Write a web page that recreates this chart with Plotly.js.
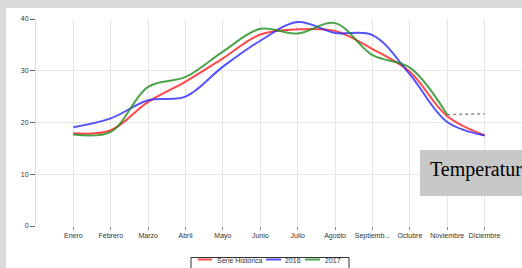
<!DOCTYPE html>
<html>
<head>
<meta charset="utf-8">
<script src="https://cdn.plot.ly/plotly-3.0.1.min.js"></script>
<style>
  html, body { margin: 0; padding: 0; background: #d9d9d9; width: 522px; height: 268px; overflow: hidden; }
  #chart { position: absolute; left: 6px; top: 8px; width: 516px; height: 260px; background: #fff; }
</style>
</head>
<body>
<div id="chart"></div>
<script>
// ---- data ----
var months = ["Enero", "Febrero", "Marzo", "Abril", "Mayo", "Junio", "Julio", "Agosto", "Septiembre", "Octubre", "Noviembre", "Diciembre"];
var monthLabels = ["Enero", "Febrero", "Marzo", "Abril", "Mayo", "Junio", "Julio", "Agosto", "Septiemb...", "Octubre", "Noviembre", "Diciembre"];
var serieHistorica = [17.9, 18.5, 24.0, 27.9, 32.4, 37.0, 38.0, 37.7, 34.2, 29.8, 21.2, 17.5];
var y2016 = [19.1, 20.8, 24.3, 25.0, 30.8, 35.8, 39.4, 37.3, 36.9, 29.3, 20.1, 17.5];
var y2017 = [17.7, 18.2, 26.9, 28.8, 33.7, 38.1, 37.2, 39.2, 33.0, 30.6, 21.5, null];
var prevision = [null, null, null, null, null, null, null, null, null, null, 21.5, 21.7];
var seriesNames = ["Serie Histórica", "2016", "2017"];
var seriesColors = ["rgba(255,40,40,0.85)", "rgba(40,40,255,0.8)", "rgba(30,140,30,0.8)"];
var yTicks = [0, 10, 20, 30, 40];
var boxText = "Temperatur";

// ---- pixel helpers (page px -> paper coords) ----
var PL = 36, PW = 486, PB = 226, PH = 207;
function px(x) { return (x - PL) / PW; }
function py(y) { return (PB - y) / PH; }

var seriesData = [serieHistorica, y2016, y2017];
var traces = seriesData.map(function (vals, i) {
  return {
    x: months, y: vals, type: "scatter", mode: "lines", name: seriesNames[i],
    line: { color: seriesColors[i], width: 2, shape: "spline", smoothing: 1 },
    hoverinfo: "skip"
  };
});
traces.push({
  x: months, y: prevision, type: "scatter", mode: "lines", name: "previsión",
  line: { color: "rgba(110,110,110,0.8)", width: 1.5, dash: "dot" }, hoverinfo: "skip"
});

var shapes = [
  { type: "rect", xref: "paper", yref: "paper", x0: px(420), x1: px(600), y0: py(196), y1: py(150),
    fillcolor: "#c8c8c8", line: { width: 0 }, layer: "above" },
  { type: "rect", xref: "paper", yref: "paper", x0: px(191), x1: px(349), y0: py(285), y1: py(257.5),
    fillcolor: "#ffffff", line: { color: "#333", width: 1 }, layer: "above" }
];
var annotations = [
  { xref: "paper", yref: "paper", x: px(428), y: py(169), xanchor: "left", yanchor: "middle",
    text: boxText, showarrow: false, font: { family: "Liberation Serif, Times New Roman, serif", size: 20, color: "#000" } }
];
var legendLineX = [[198, 212], [266, 281], [305, 320]];
var legendTextX = [215, 283, 323];
for (var i = 0; i < seriesNames.length; i++) {
  shapes.push({ type: "line", xref: "paper", yref: "paper", x0: px(legendLineX[i][0]), x1: px(legendLineX[i][1]),
    y0: py(259.5), y1: py(259.5), line: { color: seriesColors[i], width: 2 }, layer: "above" });
  annotations.push({ xref: "paper", yref: "paper", x: px(legendTextX[i]), y: py(260), xanchor: "left", yanchor: "middle",
    text: seriesNames[i], showarrow: false, font: { family: "Liberation Sans, Arial, sans-serif", size: 7, color: "#333" } });
}

var layout = {
  width: 516, height: 260,
  margin: { l: 30, r: 0, t: 11, b: 42, pad: 0 },
  paper_bgcolor: "#ffffff", plot_bgcolor: "#ffffff",
  showlegend: false,
  xaxis: {
    type: "category", range: [-1, 12], tickmode: "array", tickvals: months, ticktext: monthLabels,
    showgrid: true, gridcolor: "#e6e6e6", gridwidth: 1, zeroline: false, showline: false,
    ticks: "outside", ticklen: 3, tickcolor: "#888", tickwidth: 1,
    tickfont: { family: "Liberation Sans, Arial, sans-serif", size: 7, color: "#333" }, fixedrange: true
  },
  yaxis: {
    range: [0, 40], tickvals: yTicks, showgrid: true, gridcolor: "#e6e6e6", gridwidth: 1,
    zeroline: false, showline: true, linecolor: "#dddddd", linewidth: 1,
    ticks: "outside", ticklen: 5, tickcolor: "#666", tickwidth: 1,
    tickfont: { family: "Liberation Sans, Arial, sans-serif", size: 7, color: "#333" }, fixedrange: true
  },
  shapes: shapes,
  annotations: annotations
};

Plotly.newPlot("chart", traces, layout, { displayModeBar: false, staticPlot: true });
</script>
</body>
</html>
